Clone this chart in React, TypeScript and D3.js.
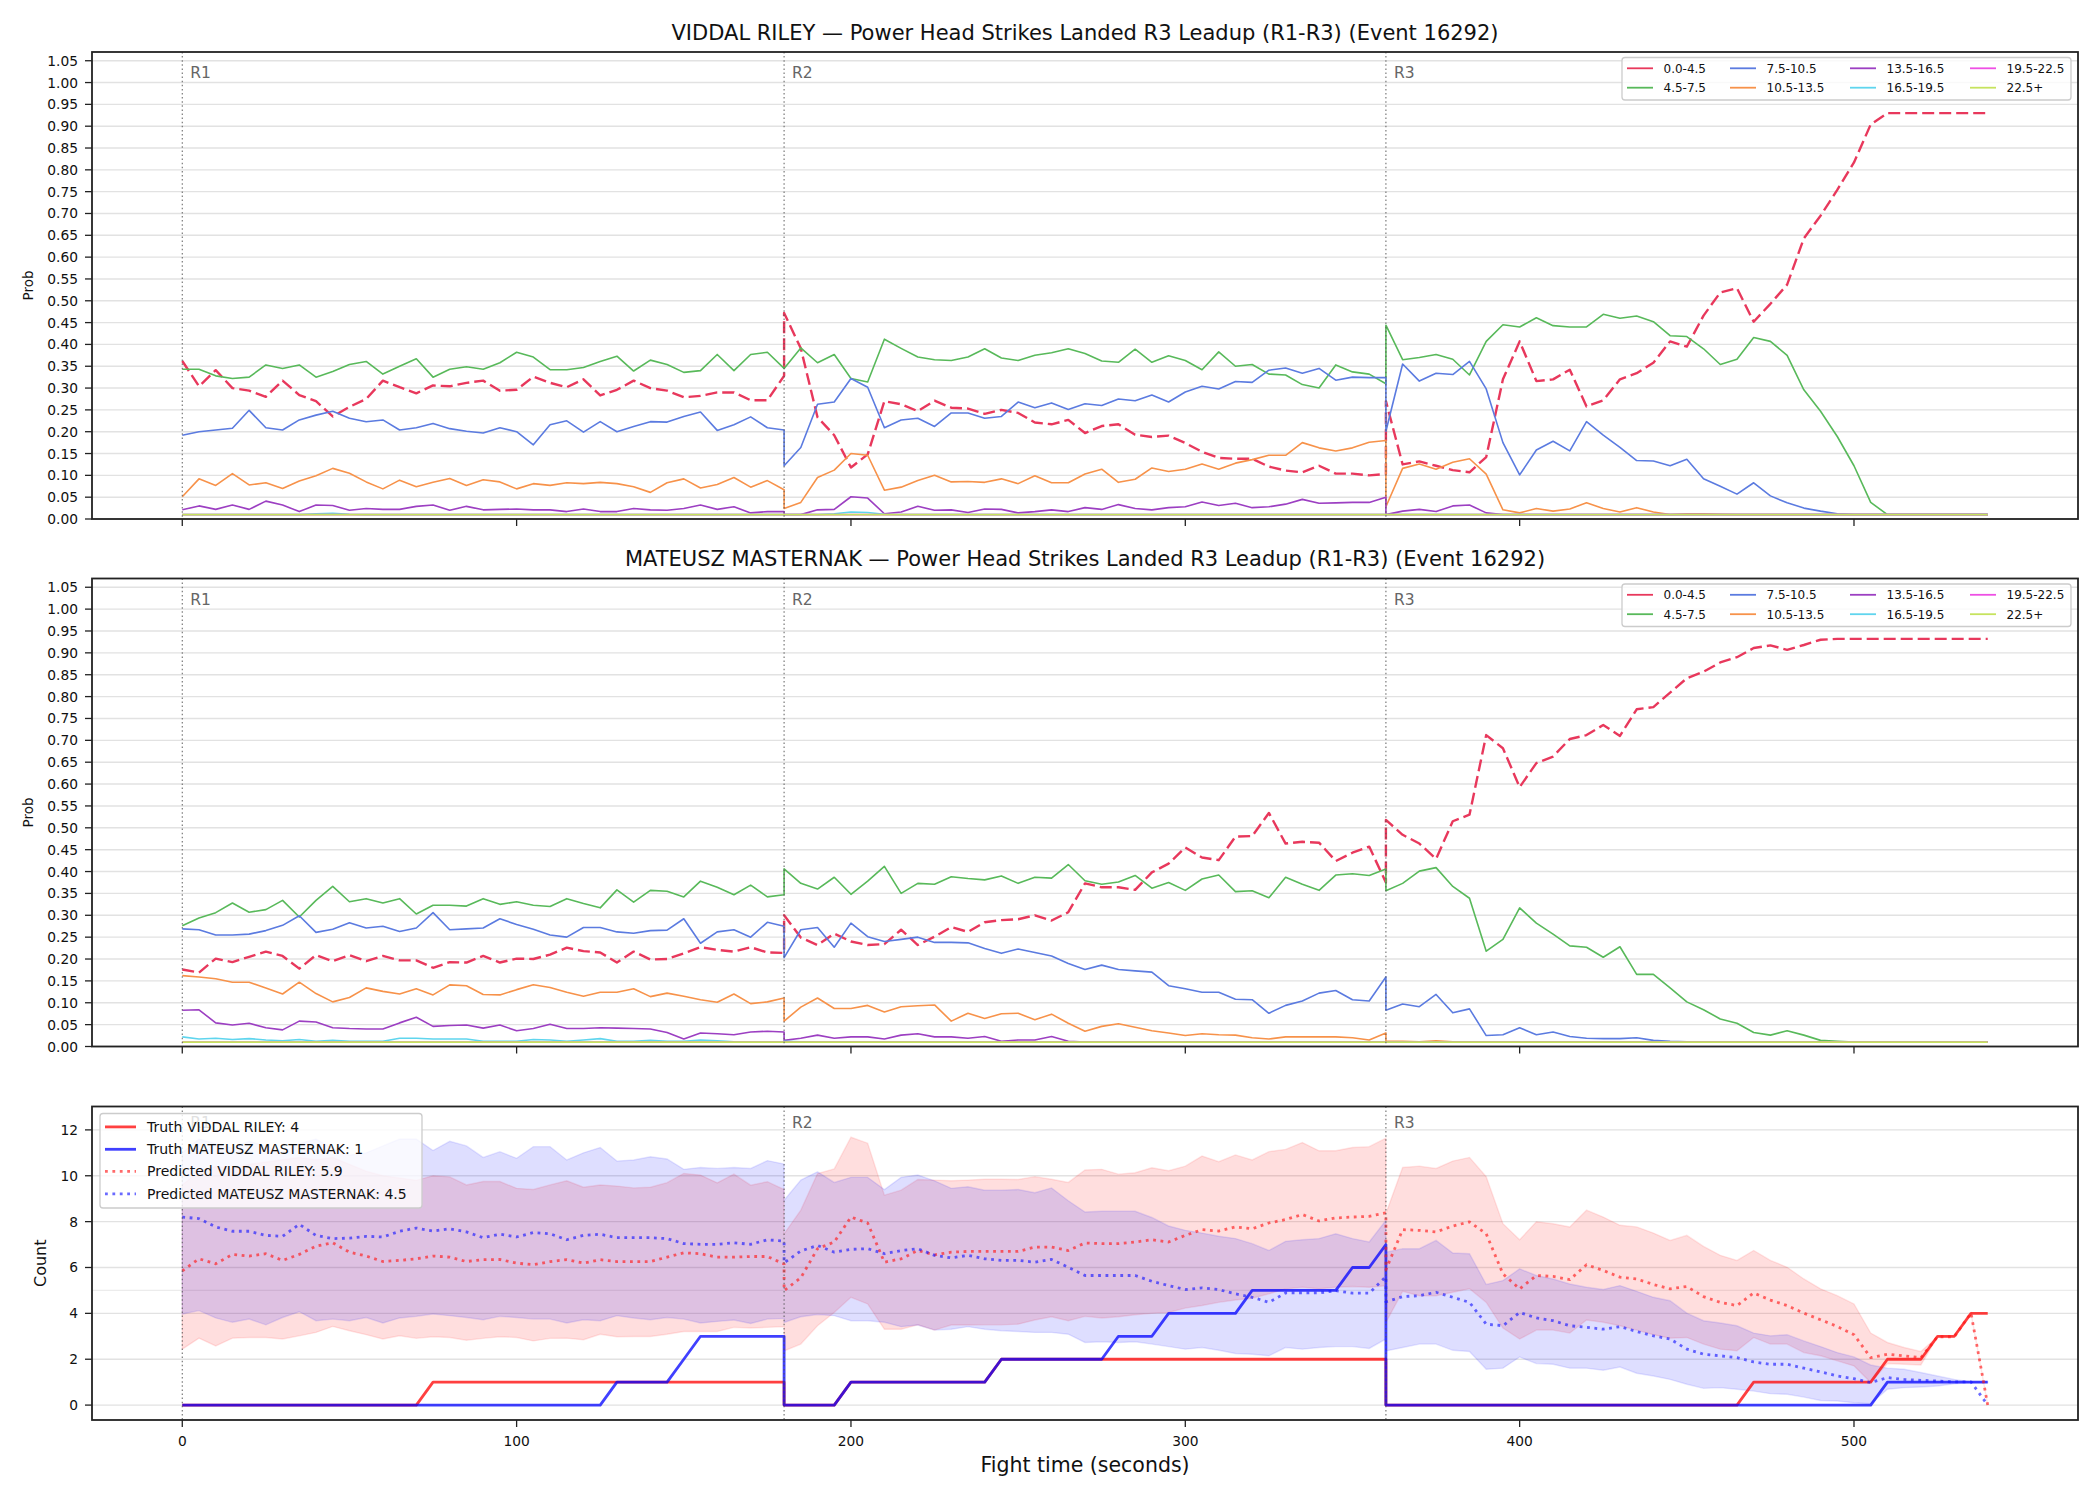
import React, { useEffect, useRef } from "react";
import * as d3 from "d3";

const W = 2100;
const H = 1500;
const FONT = "'DejaVu Sans', 'Liberation Sans', sans-serif";

// Every round is sampled every 5 s, with both round edges kept, so the
// line jumps straight up/down where one round hands over to the next.
const ROUND_STARTS = [0, 180, 360];
const ROUND_NAMES = ["R1", "R2", "R3"];
const STEP_OFFSETS = d3.range(0, 181, 5);
const times = ROUND_STARTS.flatMap((s) => STEP_OFFSETS.map((o) => s + o));

const fighterA = "VIDDAL RILEY";
const fighterB = "MATEUSZ MASTERNAK";
const statName = "Power Head Strikes Landed R3 Leadup (R1-R3) (Event 16292)";

const X_TICKS = [0, 100, 200, 300, 400, 500];
const PROB_TICKS = d3.range(22).map((i) => i / 20);
const COUNT_TICKS = [0, 2, 4, 6, 8, 10, 12];

const bucketLabels = ["0.0-4.5", "4.5-7.5", "7.5-10.5", "10.5-13.5", "13.5-16.5", "16.5-19.5", "19.5-22.5", "22.5+"];
const bucketEdges = [4.5, 7.5, 10.5, 13.5, 16.5, 19.5, 22.5];
const bucketColors = ["#e8385c", "#58b95a", "#5b7be0", "#f7924a", "#9c3fc2", "#5fd5ee", "#ee4fe4", "#c6e35e"];

// ---- bucket probabilities, VIDDAL RILEY (R1 | R2 | R3) ----
const rileyB0 = [
  .362,.304,.341,.300,.294,.280,.317,.284,.270,.235, .257,.275,.317,.302,.288,.306,.304,.312,.317,.294, .296,.326,.312,.302,.320,.283,.296,.317,.300,.294, .279,.282,.290,.290,.272,.272,.328,
  .472,.391,.233,.192,.118,.148,.270,.263,.247,.271, .255,.253,.241,.250,.243,.221,.217,.227,.197,.213, .217,.193,.188,.191,.174,.154,.140,.138,.138,.120, .111,.107,.122,.104,.104,.100,.103,
  .270,.125,.132,.122,.112,.107,.142,.320,.407,.316, .320,.342,.258,.272,.320,.334,.358,.407,.395,.466, .519,.529,.452,.493,.537,.643,.695,.754,.817,.904, .930,.930,.930,.930,.930,.930,.930,
];
const rileyB1 = [
  .343,.343,.328,.322,.325,.353,.345,.353,.325,.338, .354,.361,.332,.350,.367,.325,.343,.349,.343,.358, .382,.371,.342,.342,.347,.361,.373,.339,.364,.354, .336,.340,.377,.340,.377,.382,.345,
  .345,.392,.358,.377,.322,.314,.412,.391,.371,.365, .363,.371,.390,.369,.363,.375,.381,.390,.379,.362, .359,.389,.359,.374,.363,.342,.383,.350,.354,.332, .330,.308,.300,.353,.337,.332,.310,
  .444,.365,.370,.377,.366,.330,.407,.445,.440,.461, .443,.440,.440,.469,.460,.465,.452,.420,.418,.390, .354,.366,.416,.407,.375,.296,.247,.189,.122,.038, .010,.010,.010,.010,.010,.010,.010,
];
const rileyB2 = [
  .192,.200,.204,.208,.249,.209,.204,.227,.238,.247, .231,.223,.227,.204,.209,.219,.207,.201,.197,.209, .200,.170,.216,.225,.199,.223,.200,.212,.223,.222, .235,.245,.203,.216,.234,.209,.204,
  .122,.164,.263,.268,.322,.302,.209,.227,.231,.212, .243,.243,.231,.235,.268,.255,.266,.251,.264,.260, .275,.271,.284,.268,.291,.304,.298,.315,.313,.341, .346,.334,.345,.318,.325,.324,.324,
  .201,.355,.316,.334,.331,.361,.298,.175,.101,.158, .178,.156,.223,.192,.164,.134,.133,.122,.137,.092, .075,.057,.083,.053,.037,.025,.018,.012,.010,.010, .010,.010,.010,.010,.010,.010,.010,
];
const rileyB3 = [
  .051,.092,.077,.104,.078,.083,.070,.087,.099,.116, .105,.085,.069,.089,.074,.084,.093,.077,.090,.085, .069,.081,.077,.083,.081,.084,.081,.074,.061,.083, .092,.071,.079,.095,.073,.088,.067,
  .024,.038,.095,.112,.150,.146,.066,.073,.088,.100, .085,.086,.084,.092,.081,.099,.083,.083,.103,.114, .084,.091,.117,.109,.114,.126,.114,.128,.136,.146, .146,.175,.163,.156,.163,.176,.180,
  .028,.116,.126,.114,.130,.138,.103,.021,.014,.024, .018,.023,.037,.024,.016,.026,.016,.010,.012,.012, .011,.010,.010,.010,.010,.010,.010,.010,.010,.010, .010,.010,.010,.010,.010,.010,.010,
];
const rileyB4 = [
  .021,.030,.022,.032,.022,.041,.032,.017,.032,.031, .020,.024,.022,.022,.029,.032,.020,.029,.021,.022, .023,.021,.021,.017,.023,.017,.017,.024,.021,.020, .024,.032,.022,.028,.014,.017,.017,
  .010,.010,.021,.022,.051,.048,.012,.016,.029,.020, .021,.015,.023,.022,.014,.017,.021,.017,.026,.022, .033,.024,.021,.026,.028,.039,.031,.036,.026,.028, .034,.045,.036,.037,.038,.038,.050,
  .010,.018,.022,.017,.030,.032,.014,.010,.010,.010, .010,.010,.010,.010,.010,.010,.010,.010,.010,.010, .010,.010,.010,.010,.010,.010,.010,.010,.010,.010, .010,.010,.010,.010,.010,.010,.010,
];
const rileyB5 = [
  .010,.010,.010,.010,.010,.010,.010,.010,.012,.013, .011,.010,.010,.010,.010,.010,.010,.010,.010,.010, .010,.010,.010,.010,.010,.010,.010,.010,.010,.010, .010,.010,.010,.010,.010,.010,.010,
  .010,.010,.010,.012,.016,.015,.011,.010,.010,.010, .010,.010,.010,.010,.010,.010,.010,.010,.010,.010, .010,.010,.010,.010,.010,.010,.010,.010,.010,.010, .010,.010,.010,.010,.010,.010,.010,
  .010,.010,.010,.010,.010,.010,.010,.010,.010,.010, .010,.010,.010,.010,.010,.010,.010,.010,.010,.010, .010,.010,.010,.010,.010,.010,.010,.010,.010,.010, .010,.010,.010,.010,.010,.010,.010,
];
const rileyB6 = [
  .010,.010,.010,.010,.010,.010,.010,.010,.010,.010, .010,.010,.010,.010,.010,.010,.010,.010,.010,.010, .010,.010,.010,.010,.010,.010,.010,.010,.010,.010, .010,.010,.010,.010,.010,.010,.010,
  .010,.010,.010,.010,.010,.010,.010,.010,.010,.010, .010,.010,.010,.010,.010,.010,.010,.010,.010,.010, .010,.010,.010,.010,.010,.010,.010,.010,.010,.010, .010,.010,.010,.010,.010,.010,.010,
  .010,.010,.010,.010,.010,.010,.010,.010,.010,.010, .010,.010,.010,.010,.010,.010,.010,.010,.010,.010, .010,.010,.010,.010,.010,.010,.010,.010,.010,.010, .010,.010,.010,.010,.010,.010,.010,
];
const rileyB7 = [
  .010,.010,.010,.010,.010,.010,.010,.010,.010,.010, .010,.010,.010,.010,.010,.010,.010,.010,.010,.010, .010,.010,.010,.010,.010,.010,.010,.010,.010,.010, .010,.010,.010,.010,.010,.010,.010,
  .010,.010,.010,.010,.010,.010,.010,.010,.010,.010, .010,.010,.010,.010,.010,.010,.010,.010,.010,.010, .010,.010,.010,.010,.010,.010,.010,.010,.010,.010, .010,.010,.010,.010,.010,.010,.010,
  .010,.010,.010,.010,.010,.010,.010,.010,.010,.010, .010,.010,.010,.010,.010,.010,.010,.010,.010,.010, .010,.010,.010,.010,.010,.010,.010,.010,.010,.010, .010,.010,.010,.010,.010,.010,.010,
];

// ---- bucket probabilities, MATEUSZ MASTERNAK (R1 | R2 | R3) ----
const masternakB0 = [
  .176,.169,.201,.193,.205,.217,.207,.178,.209,.195, .209,.195,.207,.197,.197,.180,.193,.192,.207,.192, .201,.200,.210,.226,.218,.215,.192,.217,.199,.200, .213,.227,.221,.217,.227,.215,.214,
  .300,.249,.232,.258,.240,.232,.234,.267,.232,.251, .273,.262,.284,.289,.291,.300,.288,.307,.373,.364, .364,.358,.398,.418,.455,.432,.426,.480,.481,.534, .464,.468,.466,.424,.443,.457,.375,
  .518,.484,.464,.429,.515,.530,.712,.682,.593,.648, .663,.703,.712,.735,.710,.771,.776,.809,.842,.857, .878,.890,.911,.917,.907,.918,.930,.932,.932,.932, .932,.932,.932,.932,.932,.932,.932,
];
const masternakB1 = [
  .276,.294,.306,.328,.307,.313,.334,.296,.334,.366, .331,.338,.328,.338,.303,.323,.323,.321,.338,.325, .331,.323,.320,.338,.327,.317,.358,.330,.357,.355, .342,.378,.364,.347,.369,.342,.347,
  .406,.373,.360,.387,.348,.378,.412,.350,.373,.371, .388,.384,.381,.390,.373,.387,.385,.416,.379,.371, .376,.391,.362,.375,.357,.383,.392,.354,.356,.340, .387,.371,.357,.392,.395,.391,.406,
  .356,.373,.401,.409,.366,.339,.218,.245,.317,.282, .257,.230,.227,.204,.228,.165,.165,.134,.102,.084, .063,.053,.032,.026,.036,.026,.014,.012,.010,.010, .010,.010,.010,.010,.010,.010,.010,
];
const masternakB2 = [
  .269,.267,.255,.255,.257,.265,.277,.299,.261,.268, .283,.271,.275,.263,.271,.306,.267,.269,.271,.292, .279,.268,.255,.250,.272,.272,.262,.259,.265,.266, .292,.236,.262,.267,.250,.284,.275,
  .203,.267,.272,.227,.282,.251,.240,.245,.250,.238, .238,.237,.224,.213,.223,.215,.207,.190,.176,.186, .176,.173,.170,.139,.132,.124,.124,.108,.107,.076, .094,.104,.122,.128,.107,.104,.159,
  .083,.097,.091,.119,.077,.086,.025,.027,.043,.027, .033,.023,.019,.018,.018,.020,.014,.012,.011,.010, .010,.010,.010,.010,.010,.010,.010,.010,.010,.010, .010,.010,.010,.010,.010,.010,.010,
];
const masternakB3 = [
  .162,.159,.155,.147,.147,.134,.120,.147,.121,.102, .112,.134,.126,.120,.132,.118,.141,.139,.119,.118, .130,.141,.135,.124,.115,.124,.124,.132,.114,.122, .115,.107,.101,.120,.098,.102,.111,
  .058,.090,.111,.087,.087,.094,.079,.091,.093,.095, .058,.076,.064,.075,.076,.061,.074,.053,.035,.046, .052,.044,.036,.031,.025,.029,.027,.026,.020,.017, .022,.022,.022,.022,.020,.015,.031,
  .012,.012,.011,.013,.011,.011,.010,.010,.010,.010, .010,.010,.010,.010,.010,.010,.010,.010,.010,.010, .010,.010,.010,.010,.010,.010,.010,.010,.010,.010, .010,.010,.010,.010,.010,.010,.010,
];
const masternakB4 = [
  .083,.084,.054,.049,.053,.043,.038,.058,.056,.043, .041,.040,.040,.054,.067,.046,.048,.049,.042,.049, .036,.041,.051,.041,.041,.043,.042,.041,.040,.032, .017,.031,.029,.027,.033,.035,.033,
  .014,.019,.026,.019,.022,.022,.017,.026,.029,.022, .022,.019,.023,.012,.015,.015,.023,.012,.010,.010, .010,.010,.010,.010,.010,.010,.010,.010,.010,.010, .010,.010,.010,.010,.010,.010,.010,
  .010,.010,.010,.010,.010,.010,.010,.010,.010,.010, .010,.010,.010,.010,.010,.010,.010,.010,.010,.010, .010,.010,.010,.010,.010,.010,.010,.010,.010,.010, .010,.010,.010,.010,.010,.010,.010,
];
const masternakB5 = [
  .022,.017,.019,.016,.018,.015,.013,.016,.012,.014, .012,.012,.012,.019,.019,.017,.017,.017,.012,.012, .012,.016,.015,.012,.015,.018,.012,.012,.014,.012, .012,.015,.013,.011,.010,.010,.010,
  .012,.011,.010,.010,.010,.010,.010,.010,.010,.010, .010,.010,.010,.010,.010,.010,.010,.010,.010,.010, .010,.010,.010,.010,.010,.010,.010,.010,.010,.010, .010,.010,.010,.010,.010,.010,.010,
  .010,.010,.010,.010,.010,.010,.010,.010,.010,.010, .010,.010,.010,.010,.010,.010,.010,.010,.010,.010, .010,.010,.010,.010,.010,.010,.010,.010,.010,.010, .010,.010,.010,.010,.010,.010,.010,
];
const masternakB6 = rileyB6.slice();
const masternakB7 = rileyB7.slice();

// ---- strike counts (R1 | R2 | R3) ----
const truthRiley = [
  0,0,0,0,0,0,0,0,0,0, 0,0,0,0,0,1,1,1,1,1, 1,1,1,1,1,1,1,1,1,1, 1,1,1,1,1,1,1,
  0,0,0,0,1,1,1,1,1,1, 1,1,1,2,2,2,2,2,2,2, 2,2,2,2,2,2,2,2,2,2, 2,2,2,2,2,2,2,
  0,0,0,0,0,0,0,0,0,0, 0,0,0,0,0,0,0,0,0,0, 0,0,1,1,1,1,1,1,1,1, 2,2,2,3,3,4,4,
];
const truthMasternak = [
  0,0,0,0,0,0,0,0,0,0, 0,0,0,0,0,0,0,0,0,0, 0,0,0,0,0,0,1,1,1,1, 2,3,3,3,3,3,3,
  0,0,0,0,1,1,1,1,1,1, 1,1,1,2,2,2,2,2,2,2, 3,3,3,4,4,4,4,4,5,5, 5,5,5,5,6,6,7,
  0,0,0,0,0,0,0,0,0,0, 0,0,0,0,0,0,0,0,0,0, 0,0,0,0,0,0,0,0,0,0, 1,1,1,1,1,1,1,
];
const predRiley = [
  5.85,6.38,6.16,6.57,6.50,6.60,6.31,6.57,6.93,7.08, 6.67,6.50,6.26,6.31,6.38,6.50,6.45,6.26,6.34,6.35, 6.19,6.12,6.26,6.34,6.19,6.34,6.26,6.26,6.26,6.45, 6.64,6.60,6.45,6.45,6.48,6.48,6.15,
  4.99,5.55,6.82,7.11,8.20,7.94,6.23,6.38,6.74,6.55, 6.67,6.70,6.70,6.70,6.70,6.89,6.89,6.74,7.07,7.04, 7.04,7.11,7.21,7.11,7.40,7.65,7.59,7.77,7.69,7.94, 8.09,8.31,8.03,8.16,8.20,8.23,8.38,
  5.90,7.65,7.62,7.55,7.81,7.99,7.47,5.72,5.07,5.65, 5.61,5.47,6.12,5.87,5.58,5.50,5.26,5.07,5.17,4.73, 4.48,4.34,4.89,4.58,4.34,4.01,3.72,3.43,3.07,2.07, 2.22,2.15,2.07,2.98,2.98,4.01,0,
];
const predMasternak = [
  8.20,8.13,7.77,7.58,7.58,7.40,7.36,7.88,7.40,7.26, 7.28,7.36,7.33,7.58,7.72,7.59,7.69,7.55,7.30,7.45, 7.33,7.52,7.47,7.21,7.40,7.45,7.30,7.30,7.30,7.26, 7.04,7.01,7.01,7.08,7.01,7.21,7.15,
  6.20,6.72,6.96,6.67,6.79,6.82,6.60,6.74,6.82,6.53, 6.42,6.53,6.38,6.31,6.31,6.23,6.35,6.01,5.65,5.65, 5.65,5.65,5.40,5.21,5.04,5.11,5.04,4.85,4.70,4.48, 4.89,4.89,4.89,4.99,4.88,4.88,5.60,
  4.50,4.73,4.77,4.92,4.70,4.48,3.53,3.46,4.04,3.80, 3.68,3.46,3.39,3.31,3.42,3.21,3.02,2.88,2.44,2.22, 2.15,2.07,1.88,1.78,1.78,1.61,1.45,1.27,1.15,0.98, 1.20,1.12,1.08,1.05,1.01,1.01,0,
];
const rileyHi = [
  9.60,10.20,10.40,10.30,10.50,10.60,10.70,10.80,10.70,10.80, 10.50,10.20,10.00,9.90,9.80,10.00,9.95,9.60,9.75,9.75, 9.45,9.40,9.60,9.78,9.50,9.60,9.55,9.47,9.50,9.70, 10.10,10.03,9.69,10.07,9.59,9.74,9.40,
  7.47,8.50,10.10,10.30,11.68,11.42,9.15,9.37,9.84,9.81, 9.78,9.81,9.85,9.85,9.84,9.96,9.85,9.71,10.25,10.28, 10.07,10.13,10.35,10.22,10.42,10.86,10.61,10.91,10.69,11.05, 11.15,11.45,11.09,11.09,11.23,11.27,11.64,
  8.35,10.36,10.42,10.32,10.64,10.80,9.96,7.91,7.21,7.99, 7.91,7.77,8.50,8.20,7.84,7.77,7.50,7.18,7.40,6.92, 6.53,6.31,6.74,6.31,6.01,5.50,5.07,4.77,4.41,3.14, 2.73,2.51,2.34,2.98,2.98,4.01,0,
];
const rileyLo = [
  2.44,2.92,2.58,2.92,2.95,2.95,2.88,3.02,3.17,3.43, 3.24,3.07,2.88,3.02,2.91,2.98,2.95,2.83,2.91,2.98, 2.95,2.80,2.91,2.92,2.85,3.09,2.98,2.99,2.99,3.09, 3.21,3.21,3.21,3.39,3.36,3.39,3.42,
  2.36,2.66,3.46,4.04,4.70,4.41,3.31,3.31,3.50,3.27, 3.49,3.49,3.50,3.50,3.53,3.71,3.85,3.68,3.87,3.80, 3.85,3.94,4.00,4.04,4.23,4.34,4.48,4.58,4.66,4.85, 5.07,5.14,5.07,5.14,5.17,5.14,5.20,
  3.60,4.96,4.77,4.77,4.92,5.07,4.48,3.36,2.88,3.27, 3.27,3.14,3.71,3.61,3.46,3.27,3.07,2.92,2.95,2.66, 2.44,2.37,2.95,2.66,2.66,2.29,2.15,1.93,1.71,0.98, 1.81,1.78,1.75,2.98,2.98,4.01,0,
];
const masternakHi = [
  11.00,11.60,11.40,11.20,11.50,11.30,11.00,11.40,11.60,11.20, 10.90,11.00,11.30,11.60,11.60,11.10,11.50,11.30,10.80,11.05, 10.76,11.27,11.27,10.69,11.00,11.23,10.64,10.69,10.83,10.73, 10.28,10.36,10.32,10.36,10.32,10.66,10.51,
  8.93,9.81,10.17,9.71,9.93,9.93,9.40,9.93,10.03,9.78, 9.45,9.52,9.37,9.37,9.40,9.26,9.47,8.91,8.42,8.45, 8.45,8.45,8.18,7.81,7.62,7.50,7.36,7.26,7.04,6.74, 7.14,7.21,7.26,7.47,7.26,7.11,8.06,
  6.67,6.82,6.82,7.18,6.63,6.60,5.26,5.43,5.94,5.65, 5.50,5.28,5.14,5.04,5.21,4.96,4.70,4.55,4.01,3.68, 3.58,3.46,3.14,3.02,3.07,2.80,2.55,2.29,2.10,1.75, 1.61,1.56,1.42,1.27,1.12,1.01,1.01,
];
const masternakLo = [
  3.97,4.12,3.80,3.61,3.75,3.50,3.82,4.07,3.68,3.75, 3.68,3.82,3.58,3.80,3.87,3.97,3.90,3.82,3.72,3.87, 3.82,3.75,3.75,3.58,3.72,3.68,3.90,3.80,3.72,3.82, 3.75,3.58,3.65,3.71,3.56,3.75,3.78,
  3.60,3.85,3.95,3.90,3.68,3.68,3.61,3.42,3.49,3.27, 3.31,3.42,3.31,3.24,3.21,3.17,3.17,3.09,2.73,2.76, 2.73,2.76,2.66,2.55,2.44,2.51,2.39,2.25,2.22,2.15, 2.51,2.44,2.51,2.55,2.55,2.47,2.88,
  2.36,2.51,2.66,2.66,2.39,2.34,1.56,1.61,2.10,1.81, 1.78,1.61,1.61,1.52,1.66,1.39,1.27,1.12,0.91,0.73, 0.76,0.69,0.61,0.50,0.47,0.35,0.20,0.18,0.10,0.06, 0.69,0.76,0.79,0.83,0.93,0.98,0.98,
];

const rileyBuckets = [rileyB0, rileyB1, rileyB2, rileyB3, rileyB4, rileyB5, rileyB6, rileyB7];
const masternakBuckets = [masternakB0, masternakB1, masternakB2, masternakB3, masternakB4, masternakB5, masternakB6, masternakB7];

// layout
const LEFT = 92;
const RIGHT = 2078;
const P1 = { top: 52, bottom: 519 };
const P2 = { top: 578.5, bottom: 1046.5 };
const P3 = { top: 1106.5, bottom: 1420 };
const R3_START = 2 * STEP_OFFSETS.length;

const x = d3.scaleLinear().domain([-27, 567]).range([LEFT, RIGHT]);
const idx = d3.range(times.length);

const bucketOf = (v: number) => bucketEdges.filter((e) => v > e).length;

type G = d3.Selection<SVGGElement, unknown, null, undefined>;

function drawGrid(g: G, y: d3.ScaleLinear<number, number>, ticks: number[]) {
  g.append("g")
    .selectAll("line")
    .data(ticks)
    .join("line")
    .attr("x1", LEFT)
    .attr("x2", RIGHT)
    .attr("y1", (d) => y(d))
    .attr("y2", (d) => y(d))
    .attr("stroke", "#e2e2e2")
    .attr("stroke-width", 1.4);
}

function drawRounds(g: G, top: number, bottom: number) {
  ROUND_STARTS.forEach((t, i) => {
    g.append("line")
      .attr("x1", x(t))
      .attr("x2", x(t))
      .attr("y1", top)
      .attr("y2", bottom)
      .attr("stroke", "#555")
      .attr("stroke-width", 1.1)
      .attr("stroke-dasharray", "1.5,2.6")
      .attr("opacity", 0.85);
    g.append("text")
      .attr("x", x(t) + 8)
      .attr("y", top + 0.03 * (bottom - top) + 12)
      .attr("fill", "#666")
      .attr("font-size", 15.5)
      .text(ROUND_NAMES[i]);
  });
}

function drawFrame(
  g: G,
  top: number,
  bottom: number,
  y: d3.ScaleLinear<number, number>,
  yTicks: number[],
  fmt: (v: number) => string,
  xLabels: boolean
) {
  g.append("rect")
    .attr("x", LEFT)
    .attr("y", top)
    .attr("width", RIGHT - LEFT)
    .attr("height", bottom - top)
    .attr("fill", "none")
    .attr("stroke", "#222")
    .attr("stroke-width", 1.8);
  const yt = g.append("g");
  yTicks.forEach((v) => {
    yt.append("line").attr("x1", LEFT - 7).attr("x2", LEFT).attr("y1", y(v)).attr("y2", y(v)).attr("stroke", "#222").attr("stroke-width", 1.3);
    yt.append("text")
      .attr("x", LEFT - 14)
      .attr("y", y(v) + 5)
      .attr("text-anchor", "end")
      .attr("font-size", 13.8)
      .attr("fill", "#111")
      .text(fmt(v));
  });
  X_TICKS.forEach((t) => {
    g.append("line").attr("x1", x(t)).attr("x2", x(t)).attr("y1", bottom).attr("y2", bottom + 7).attr("stroke", "#222").attr("stroke-width", 1.3);
    if (xLabels) {
      g.append("text")
        .attr("x", x(t))
        .attr("y", bottom + 26)
        .attr("text-anchor", "middle")
        .attr("font-size", 13.8)
        .attr("fill", "#111")
        .text(String(t));
    }
  });
}

function drawProbPanel(svg: any, top: number, bottom: number, fighter: string, buckets: number[][], truth: number[]) {
  const y = d3.scaleLinear().domain([0, 1.07]).range([bottom, top]);
  const g: G = svg.append("g");
  drawGrid(g, y, PROB_TICKS);

  // the bucket holding the final landed count is drawn dashed
  const hit = bucketOf(truth[truth.length - 1]);
  const line = d3
    .line<number>()
    .x((_, i) => x(times[i]))
    .y((d) => y(d));
  buckets.forEach((vals, k) => {
    g.append("path")
      .attr("d", line(vals))
      .attr("fill", "none")
      .attr("stroke", bucketColors[k])
      .attr("stroke-width", k === hit ? 2.4 : 1.6)
      .attr("stroke-dasharray", k === hit ? "12,5" : null)
      .attr("stroke-linejoin", "round");
  });

  drawRounds(g, top, bottom);
  drawFrame(g, top, bottom, y, PROB_TICKS, d3.format(".2f"), false);

  g.append("text")
    .attr("transform", `translate(33,${(top + bottom) / 2}) rotate(-90)`)
    .attr("text-anchor", "middle")
    .attr("font-size", 13.5)
    .attr("fill", "#111")
    .text("Prob");
  g.append("text")
    .attr("x", (LEFT + RIGHT) / 2)
    .attr("y", top - 12.5)
    .attr("text-anchor", "middle")
    .attr("font-size", 21)
    .attr("fill", "#111")
    .text(`${fighter} — ${statName}`);

  // legend: 4 columns x 2 rows, filled column by column
  const lg = g.append("g");
  lg.append("rect")
    .attr("x", 1622)
    .attr("y", top + 5.5)
    .attr("width", 449)
    .attr("height", 42.5)
    .attr("rx", 3)
    .attr("fill", "#fff")
    .attr("fill-opacity", 0.8)
    .attr("stroke", "#cccccc")
    .attr("stroke-width", 1.3);
  const colX = [1627, 1730, 1850, 1970];
  bucketLabels.forEach((lab, k) => {
    const hx = colX[Math.floor(k / 2)];
    const cy = top + (k % 2 === 0 ? 16.3 : 35.7);
    lg.append("line").attr("x1", hx).attr("x2", hx + 26).attr("y1", cy).attr("y2", cy).attr("stroke", bucketColors[k]).attr("stroke-width", 1.8);
    lg.append("text").attr("x", hx + 36.5).attr("y", cy + 4.3).attr("font-size", 12).attr("fill", "#111").text(lab);
  });
}

function drawCountPanel(svg: any, top: number, bottom: number) {
  const y = d3.scaleLinear().domain([-0.65, 13.02]).range([bottom, top]);
  const g: G = svg.append("g");
  drawGrid(g, y, COUNT_TICKS);
  g.append("line").attr("x1", LEFT).attr("x2", RIGHT).attr("y1", y(5)).attr("y2", y(5)).attr("stroke", "#ececec").attr("stroke-width", 1.2);

  const bands = [
    { lo: rileyLo, hi: rileyHi, color: "#ff0000" },
    { lo: masternakLo, hi: masternakHi, color: "#0000ff" },
  ];
  bands.forEach((b) => {
    const area = d3
      .area<number>()
      .x((i) => x(times[i]))
      .y0((i) => y(b.lo[i]))
      .y1((i) => y(b.hi[i]));
    g.append("path").attr("d", area(idx)).attr("fill", b.color).attr("fill-opacity", 0.13).attr("stroke", b.color).attr("stroke-opacity", 0.1).attr("stroke-width", 1.4);
  });

  const line = d3
    .line<number>()
    .x((_, i) => x(times[i]))
    .y((d) => y(d));
  const series = [
    { vals: truthRiley, color: "#ff0000", dash: null, width: 2.8, op: 0.75 },
    { vals: truthMasternak, color: "#0000ff", dash: null, width: 2.8, op: 0.75 },
    { vals: predRiley, color: "#ff1a1a", dash: "2.8,4.6", width: 2.8, op: 0.65 },
    { vals: predMasternak, color: "#1a1aff", dash: "2.8,4.6", width: 2.8, op: 0.65 },
  ];
  series.forEach((s) => {
    g.append("path")
      .attr("d", line(s.vals))
      .attr("fill", "none")
      .attr("stroke", s.color)
      .attr("stroke-opacity", s.op)
      .attr("stroke-width", s.width)
      .attr("stroke-dasharray", s.dash)
      .attr("stroke-linejoin", "round");
  });

  drawRounds(g, top, bottom);
  drawFrame(g, top, bottom, y, COUNT_TICKS, (v) => String(v), true);

  g.append("text")
    .attr("transform", `translate(46,${(top + bottom) / 2}) rotate(-90)`)
    .attr("text-anchor", "middle")
    .attr("font-size", 16)
    .attr("fill", "#111")
    .text("Count");
  g.append("text")
    .attr("x", (LEFT + RIGHT) / 2)
    .attr("y", 1472)
    .attr("text-anchor", "middle")
    .attr("font-size", 20.5)
    .attr("fill", "#111")
    .text("Fight time (seconds)");

  const last = times.length - 1;
  const labels = [
    `Truth ${fighterA}: ${truthRiley[last]}`,
    `Truth ${fighterB}: ${truthMasternak[last]}`,
    `Predicted ${fighterA}: ${predRiley[R3_START].toFixed(1)}`,
    `Predicted ${fighterB}: ${predMasternak[R3_START].toFixed(1)}`,
  ];
  const lg = g.append("g");
  lg.append("rect")
    .attr("x", 100)
    .attr("y", 1113.5)
    .attr("width", 322)
    .attr("height", 94.5)
    .attr("rx", 3)
    .attr("fill", "#fff")
    .attr("fill-opacity", 0.8)
    .attr("stroke", "#cccccc")
    .attr("stroke-width", 1.3);
  const rowY = [1126.9, 1149.3, 1171.4, 1193.9];
  series.forEach((s, k) => {
    lg.append("line")
      .attr("x1", 105)
      .attr("x2", 136)
      .attr("y1", rowY[k])
      .attr("y2", rowY[k])
      .attr("stroke", s.color)
      .attr("stroke-opacity", s.op)
      .attr("stroke-width", s.width)
      .attr("stroke-dasharray", s.dash);
    lg.append("text").attr("x", 147).attr("y", rowY[k] + 5).attr("font-size", 14).attr("fill", "#111").text(labels[k]);
  });
}

export default function App() {
  const ref = useRef<SVGSVGElement>(null);

  useEffect(() => {
    const svg = d3.select(ref.current);
    svg.selectAll("*").remove();
    svg.attr("font-family", FONT);
    svg.append("rect").attr("width", W).attr("height", H).attr("fill", "#fff");

    drawProbPanel(svg, P1.top, P1.bottom, fighterA, rileyBuckets, truthRiley);
    drawProbPanel(svg, P2.top, P2.bottom, fighterB, masternakBuckets, truthMasternak);
    drawCountPanel(svg, P3.top, P3.bottom);
  }, []);

  return <svg ref={ref} width={W} height={H} style={{ position: "absolute", left: 0, top: 0, display: "block" }} />;
}
